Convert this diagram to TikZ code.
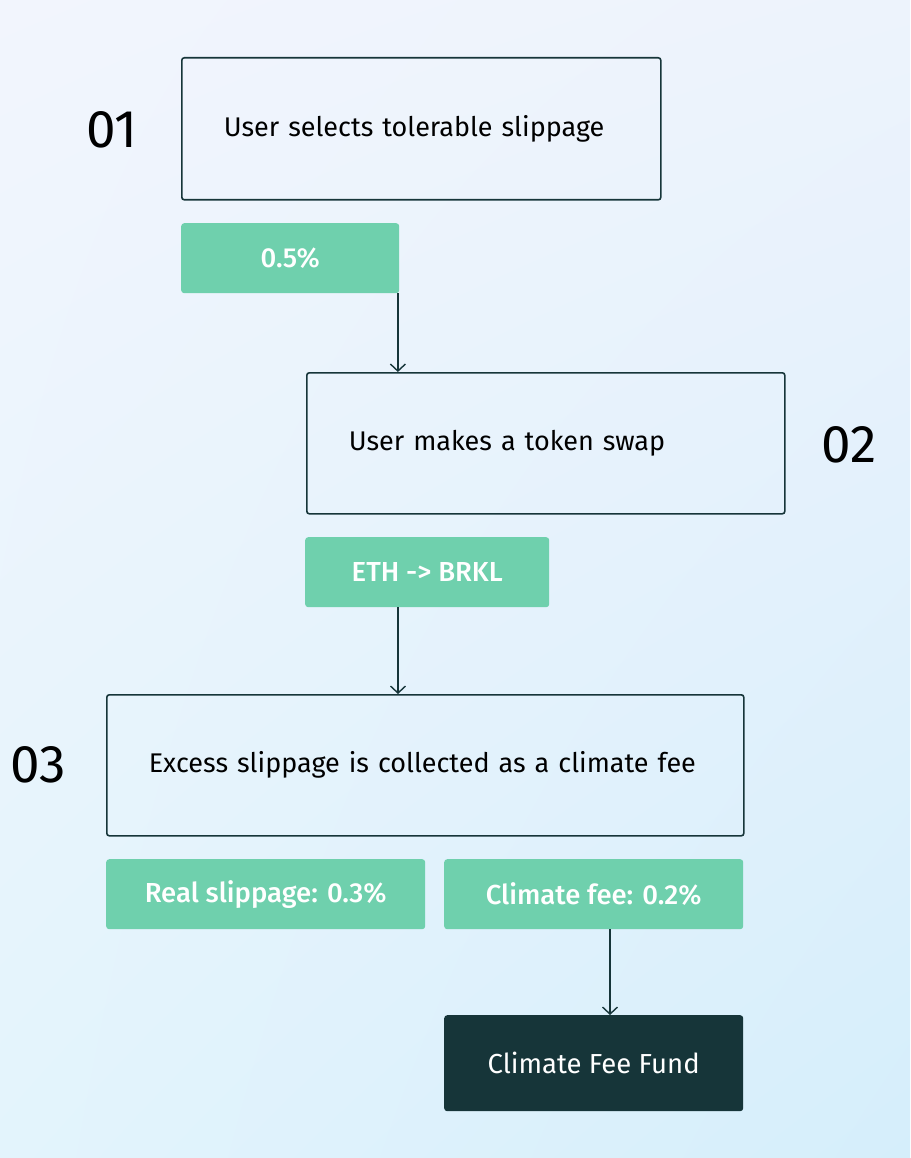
\documentclass[tikz,border=0pt]{standalone}
\usepackage{fontspec}
\setmainfont{Fira Sans}[BoldFont={Fira Sans Medium}]
\usetikzlibrary{arrows.meta,shadings}
\definecolor{mint}{HTML}{6FD0AD}
\definecolor{ink}{HTML}{163539}
\definecolor{bgul}{HTML}{F2F5FD}
\definecolor{bgur}{HTML}{EDF3FC}
\definecolor{bgll}{HTML}{E3F4FC}
\definecolor{bglr}{HTML}{D5EEFB}
\begin{document}
\begin{tikzpicture}[x=1pt,y=-1pt,
  stepbox/.style={draw=ink, line width=1.6pt, rounded corners=2.5pt, anchor=north west,
    inner xsep=42pt, inner ysep=0pt, align=left, font=\fontsize{27}{32}\selectfont, text=black},
  tagbox/.style={fill=mint, rounded corners=3pt, anchor=north west, inner sep=0pt,
    text=white, font=\fontsize{27.5}{32}\selectfont\bfseries},
  fundbox/.style={fill=ink, rounded corners=3pt, anchor=north west, inner sep=0pt,
    text=white, font=\fontsize{27.5}{32}\selectfont},
  numlabel/.style={font=\fontsize{53}{60}\selectfont, text=black},
  arr/.style={draw=ink, line width=1.4pt, -{Straight Barb[length=7pt,width=15pt,line width=1.4pt]}}]
\shade[upper left=bgul, upper right=bgur, lower left=bgll, lower right=bglr] (0,0) rectangle (910,1158);
\useasboundingbox (0,0) rectangle (910,1158);

\node[stepbox, text width=395pt, minimum height=142pt] (b1) at (181,57) {User selects tolerable slippage};
\node[numlabel] (n1) at (112,130) {01};
\node[tagbox, minimum width=218pt, minimum height=70pt] (g1) at (181,223) {0.5\%};

\node[stepbox, text width=394pt, minimum height=141pt] (b2) at (306,372) {User makes a token swap};
\node[numlabel] (n2) at (849,445) {02};
\node[tagbox, minimum width=244pt, minimum height=70pt] (g2) at (305,537) {ETH -> BRKL};

\node[stepbox, text width=553pt, minimum height=141pt] (b3) at (106,694) {Excess slippage is collected as a climate fee};
\node[numlabel] (n3) at (38,765) {03};
\node[tagbox, minimum width=319pt, minimum height=70pt] (g3) at (106,859) {Real slippage: 0.3\%};
\node[tagbox, minimum width=299pt, minimum height=70pt] (g4) at (444,859) {Climate fee: 0.2\%};

\node[fundbox, minimum width=299pt, minimum height=96pt] (f) at (444,1015) {Climate Fee Fund};

\draw[arr] ([xshift=-1.5pt]g1.south east) -- ([xshift=-1.5pt]g1.south east |- b2.north);
\draw[arr] ([xshift=93pt]g2.south west) -- ([xshift=93pt]g2.south west |- b3.north);
\draw[arr] ([xshift=166pt]g4.south west) -- ([xshift=166pt]g4.south west |- f.north);
\end{tikzpicture}
\end{document}
